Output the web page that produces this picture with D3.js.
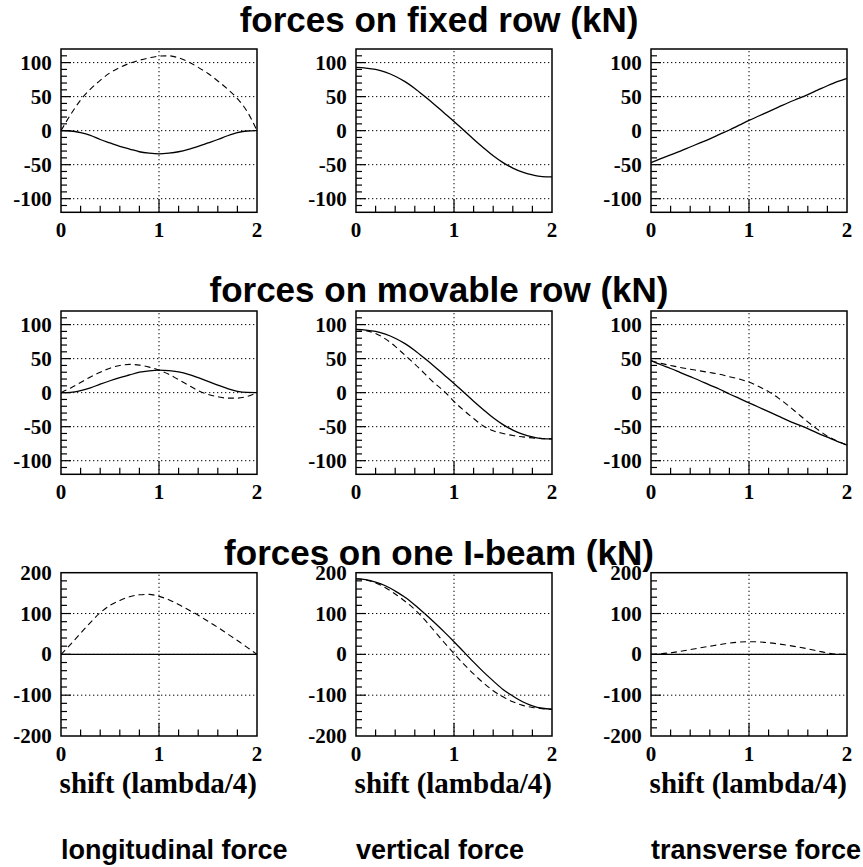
<!DOCTYPE html>
<html><head><meta charset="utf-8">
<script src="https://cdn.jsdelivr.net/npm/d3@7"></script>
<style>body{margin:0;background:#fff}</style>
</head><body>
<script>
// ---- data ----
const shift = [0,0.1,0.2,0.3,0.4,0.5,0.6,0.7,0.8,0.9,1.0,1.1,1.2,1.3,1.4,1.5,1.6,1.7,1.8,1.9,2.0];
const rowTitles = ["forces on fixed row (kN)","forces on movable row (kN)","forces on one I-beam (kN)"];
const colTitles = ["longitudinal force","vertical force","transverse force"];
const xTitle = "shift (lambda/4)";
const xTickLabels = [0,1,2];
const yTicksSmall = [-100,-50,0,50,100];
const yTicksLarge = [-200,-100,0,100,200];

// fixed row
const fixedLongSolid  = [0,-0.5,-3,-7,-13,-18,-23,-27,-31,-33,-34,-33,-31,-27.5,-23,-18,-13,-7.5,-3,-0.5,0];
const fixedLongDashed = [0,24,45,61,74,85,93,99,103.5,107,109.5,110,107,101,93,84,73,61,47,28,0];
const fixedVertSolid  = [93,92,90,86,80,72,62,50.5,38.5,26,13.5,0.5,-12.5,-25,-37,-47,-55,-61,-65,-67.5,-68];
const fixedTransSolid = [-47,-41,-35.5,-30,-24,-18,-12,-5.5,1,8,15,21.5,28,34.5,41,47,53,59.5,66,72,77];
// movable row
const movLongSolid    = [0,0.5,3,7,12.5,17.5,22,26,30,32,33,32.5,30.5,27,22,16.5,11,6,2,0.3,0];
const movLongDashed   = [0,7,15,23,30,36,40,41.5,40.5,37.5,33,27,19,11,3,-2.5,-6,-8,-8,-5.5,0];
const movVertSolid    = [93,92,90,86,80,72,62,50.5,38.5,26,13.5,0.5,-12.5,-25,-37,-47,-55,-61,-65,-67.5,-68];
const movVertDashed   = [93,91,87,79,68,55,42,28,14,2,-13,-26,-38,-49,-56,-60,-63,-65,-66.5,-67.5,-68];
const movTransSolid   = [47,41,35.5,29.5,23.5,17.5,11,5,-2,-8.5,-15,-21.5,-28,-34.5,-41,-47,-53,-59.5,-65.5,-71.5,-77];
const movTransDashed  = [47,43,40,37,34.5,32,29.5,27,23.5,20,15.5,9,1.5,-8,-19,-31,-43,-54,-64,-71,-77];
// one I-beam
const beamLongSolid   = [0,0,0,0,0,0,0,0,0,0,0,0,0,0,0,0,0,0,0,0,0];
const beamLongDashed  = [0,25,52,78,102,120,132,141,146,147,142,134,122,109,96,81,66,50,34,17,0];
const beamVertSolid   = [185,183,177,168,155,140,121,100,78,55,31,6,-19,-43,-65,-86,-102,-116,-126,-132,-134];
const beamVertDashed  = [185,182,175,163,148,130,110,85,57,29,2,-24,-48,-70,-89,-104,-116,-125,-130,-133,-135];
const beamTransSolid  = [0,0,0,0,0,0,0,0,0,0,0,0,0,0,0,0,0,0,0,0,0];
const beamTransDashed = [0,1.5,4,7.5,11.5,16,20,24,27.5,30,31,30.5,28.5,25.5,22,18,13.5,8.5,3.5,0.5,0];

const panels = [
  [{solid:fixedLongSolid, dashed:fixedLongDashed},{solid:fixedVertSolid},{solid:fixedTransSolid}],
  [{solid:movLongSolid, dashed:movLongDashed},{solid:movVertSolid, dashed:movVertDashed},{solid:movTransSolid, dashed:movTransDashed}],
  [{solid:beamLongSolid, dashed:beamLongDashed},{solid:beamVertSolid, dashed:beamVertDashed},{solid:beamTransSolid, dashed:beamTransDashed}]
];

// ---- layout ----
const W = 863, H = 867;
const colLeft = [61, 356, 651], pw = 196;
const rowTop = [49, 311, 572.7], ph = 163.3;
const titleY = [32, 302, 565];

const svg = d3.select("body").append("svg").attr("width", W).attr("height", H)
  .style("background","#fff");

const serif = "'Liberation Serif','Times New Roman',serif";
const sans = "'Liberation Sans',Arial,Helvetica,sans-serif";

rowTitles.forEach((t,i)=>{
  svg.append("text").attr("x",439).attr("y",titleY[i]).attr("text-anchor","middle")
    .style("font-family",sans).style("font-weight","bold").style("font-size","35px").text(t);
});

panels.forEach((row, ri) => {
  const big = ri === 2;
  const yMax = big ? 200 : 120;
  const majors = big ? yTicksLarge : yTicksSmall;
  const minorStep = big ? 20 : 10;
  row.forEach((p, ci) => {
    const x0 = colLeft[ci], y0 = rowTop[ri];
    const x = d3.scaleLinear().domain([0,2]).range([x0, x0+pw]);
    const y = d3.scaleLinear().domain([-yMax, yMax]).range([y0+ph, y0]);
    const g = svg.append("g");
    // grid
    majors.filter(v => Math.abs(v) < yMax).forEach(v => {
      g.append("line").attr("x1",x(0)).attr("x2",x(2)).attr("y1",y(v)).attr("y2",y(v))
        .attr("stroke","#000").attr("stroke-width",1).attr("stroke-dasharray","1.3,2.7");
    });
    g.append("line").attr("x1",x(1)).attr("x2",x(1)).attr("y1",y(-yMax)).attr("y2",y(yMax))
      .attr("stroke","#000").attr("stroke-width",1).attr("stroke-dasharray","1.3,2.7");
    // y ticks
    const ticks = d3.range(-yMax+minorStep, yMax-minorStep/2, minorStep);
    ticks.forEach(v => {
      const isMajor = majors.includes(v);
      g.append("line").attr("x1",x(0)).attr("x2",x(0)+(isMajor?10:6))
        .attr("y1",y(v)).attr("y2",y(v)).attr("stroke","#000").attr("stroke-width",1.2);
    });
    // x ticks
    [0.2,0.4,0.6,0.8,1.0,1.2,1.4,1.6,1.8].forEach(v => {
      const isMajor = v === 1.0;
      g.append("line").attr("x1",x(v)).attr("x2",x(v))
        .attr("y1",y(-yMax)).attr("y2",y(-yMax)-(isMajor?13:6.5))
        .attr("stroke","#000").attr("stroke-width",1.2);
    });
    // y labels
    majors.forEach(v => {
      g.append("text").attr("x",x0-9.3).attr("y",y(v)).attr("dy","0.34em")
        .attr("text-anchor","end").style("font-family",serif).style("font-weight","bold")
        .style("font-size","21px").text(String(v));
    });
    // x labels
    xTickLabels.forEach(v => {
      g.append("text").attr("x",x(v)).attr("y",y0+ph+25).attr("text-anchor","middle")
        .style("font-family",serif).style("font-weight","bold").style("font-size","21px").text(String(v));
    });
    // curves
    const line = d3.line().x((d,i)=>x(shift[i])).y(d=>y(d)).curve(d3.curveMonotoneX);
    if (p.dashed) g.append("path").datum(p.dashed).attr("d",line).attr("fill","none")
      .attr("stroke","#000").attr("stroke-width",1.1).attr("stroke-dasharray","6,4");
    g.append("path").datum(p.solid).attr("d",line).attr("fill","none")
      .attr("stroke","#000").attr("stroke-width",1.3);
    // frame
    g.append("rect").attr("x",x0).attr("y",y0).attr("width",pw).attr("height",ph)
      .attr("fill","none").attr("stroke","#000").attr("stroke-width",1.5);
    if (ri === 2) {
      g.append("text").attr("x",x0+pw).attr("y",793).attr("text-anchor","end")
        .style("font-family",serif).style("font-weight","bold").style("font-size","29px").text(xTitle);
      svg.append("text").attr("x",x0).attr("y",859).attr("text-anchor","start")
        .style("font-family",sans).style("font-weight","bold").style("font-size","27px").text(colTitles[ci]);
    }
  });
});
</script>
</body></html>
